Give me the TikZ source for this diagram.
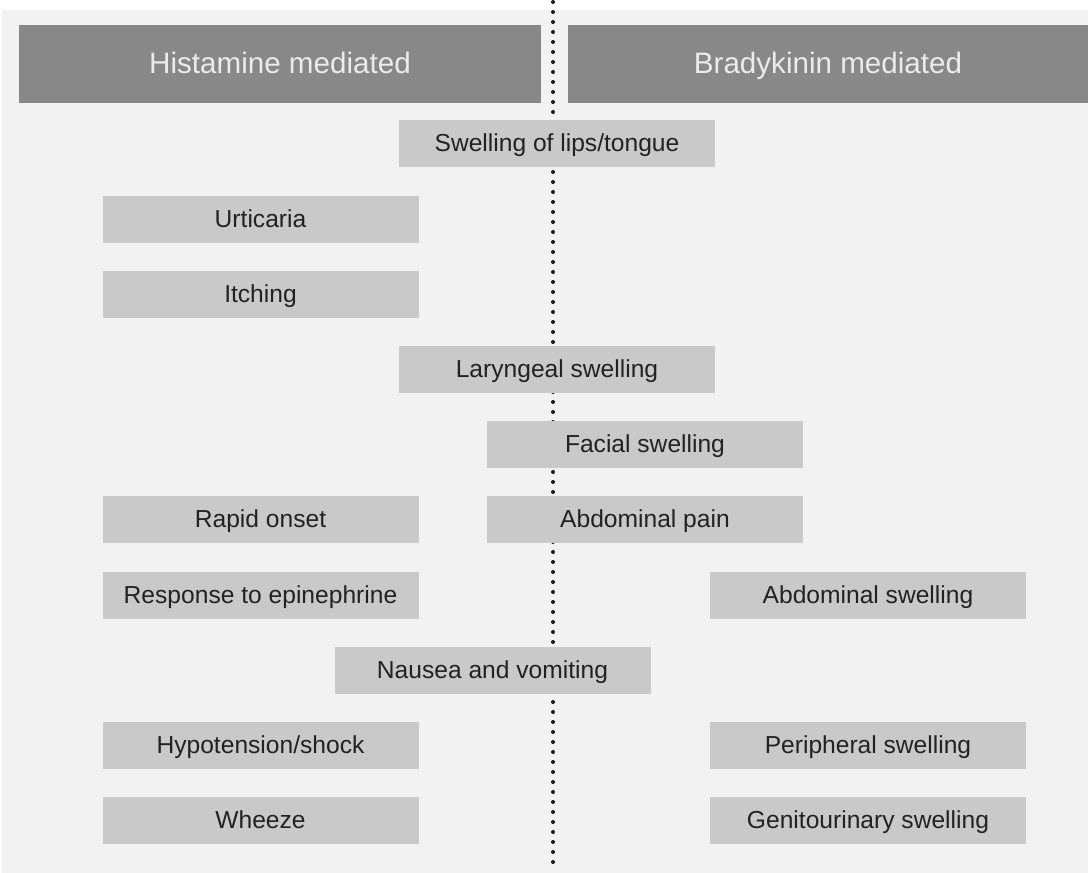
\documentclass[tikz,border=0pt]{standalone}
\usepackage{fontspec}
\setmainfont{Liberation Sans}
\definecolor{pagegray}{HTML}{F2F2F2}
\definecolor{headgray}{HTML}{888888}
\definecolor{boxgray}{HTML}{C9C9C9}
\definecolor{textgray}{HTML}{222222}
\begin{document}
\begin{tikzpicture}
  [x=0.5pt,y=-0.5pt,
   header/.style={rectangle,fill=headgray,text=white!92!black,align=center,
                  outer sep=0,inner sep=0,minimum height=39pt,
                  text height=1.18em,text depth=0.25em,
                  font=\fontsize{14.8}{16}\selectfont},
   symptom/.style={rectangle,fill=boxgray,text=textgray,align=center,
                   outer sep=0,inner sep=0,minimum width=158pt,minimum height=23.5pt,
                   text height=1.09em,text depth=0.25em,
                   font=\fontsize{12.3}{14}\selectfont},
   divider/.style={line width=2pt,line cap=round,dash pattern=on 0pt off 5pt,
                   draw=black!90}]
  \useasboundingbox (0,0) rectangle (1088,873);
  \fill[pagegray] (2,10) rectangle (1088,873);
  \coordinate (top) at (553,2);
  \coordinate (bottom) at (553,871);
  \draw[divider] (top) to (bottom);
  \node[header,minimum width=261pt] (hist) at (280,64) {Histamine mediated};
  \node[header,minimum width=260pt] (brady) at (828,64) {Bradykinin mediated};
  \node[symptom] (lips) at (557,143.5) {Swelling of lips/tongue};
  \node[symptom] (urticaria) at (260.5,219.5) {Urticaria};
  \node[symptom] (itching) at (260.5,294.5) {Itching};
  \node[symptom] (laryngeal) at (557,369.5) {Laryngeal swelling};
  \node[symptom] (facial) at (645,444.5) {Facial swelling};
  \node[symptom] (rapid) at (260.5,519.5) {Rapid onset};
  \node[symptom] (abdpain) at (645,519.5) {Abdominal pain};
  \node[symptom] (epinephrine) at (260.5,595) {Response to epinephrine};
  \node[symptom] (abdswelling) at (868,595) {Abdominal swelling};
  \node[symptom] (nausea) at (492.5,670.5) {Nausea and vomiting};
  \node[symptom] (hypotension) at (260.5,745.5) {Hypotension/shock};
  \node[symptom] (peripheral) at (868,745.5) {Peripheral swelling};
  \node[symptom] (wheeze) at (260.5,820.5) {Wheeze};
  \node[symptom] (genitourinary) at (868,820.5) {Genitourinary swelling};
\end{tikzpicture}
\end{document}
